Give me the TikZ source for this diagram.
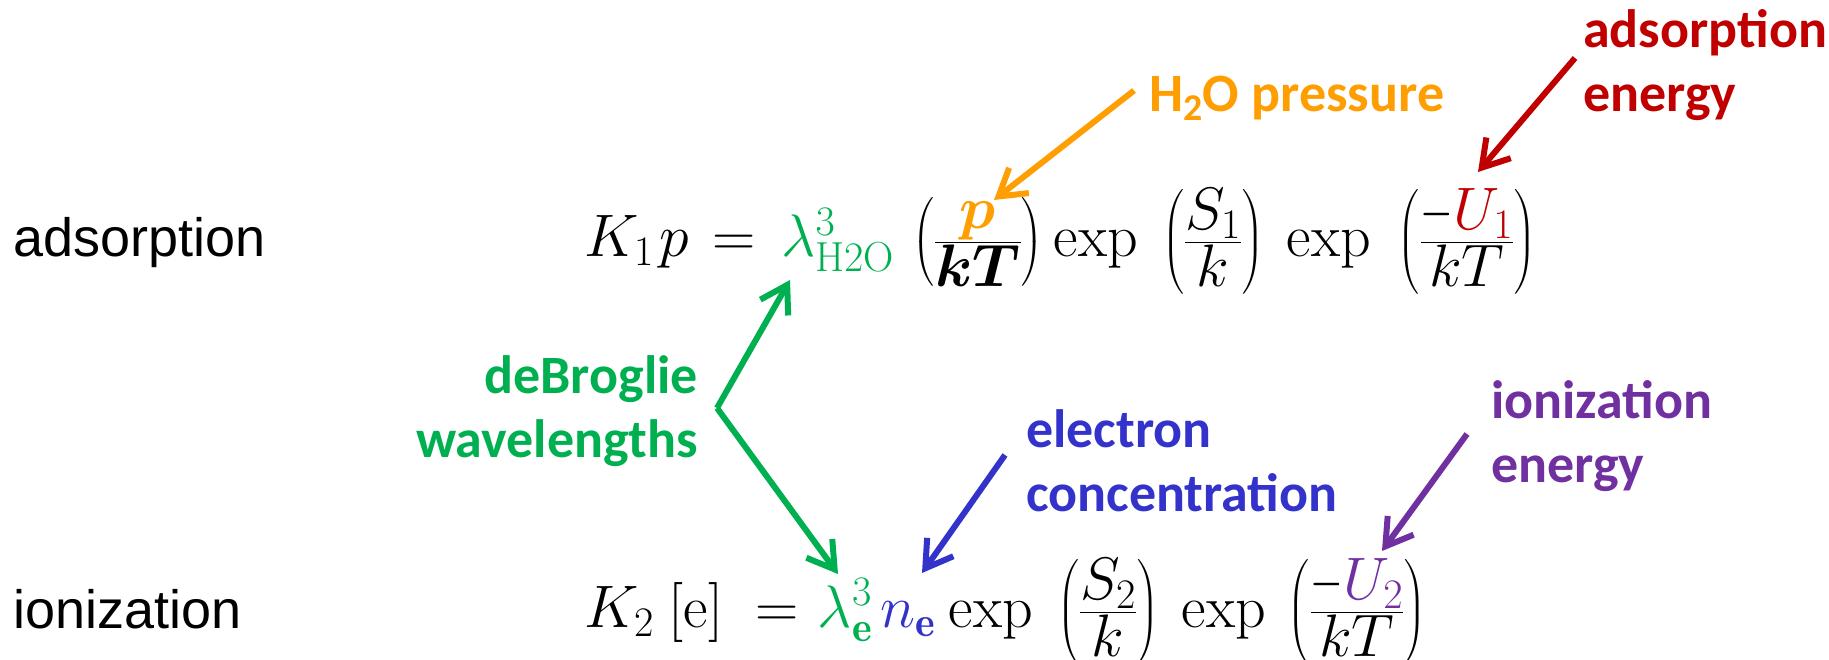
\RequirePackage{fix-cm}
\documentclass[tikz,border=0pt]{standalone}
\usepackage{amsmath}
\usepackage{graphicx}
\usepackage{fontspec}
\newfontfamily\calb{Carlito}
\newfontfamily\arialf{Liberation Sans}
\usetikzlibrary{arrows.meta}
\definecolor{cgreen}{HTML}{00B050}
\definecolor{corange}{HTML}{FF9E00}
\definecolor{cred}{HTML}{C00000}
\definecolor{cblue}{HTML}{3333CC}
\definecolor{cpurple}{HTML}{7030A0}
\newcommand{\nmin}{\mathord{\scalebox{0.7}[1]{$-$}}}
\newcommand{\ff}[2]{\frac{\textstyle #1\rule[-0.18em]{0pt}{0pt}}{\textstyle\rule{0pt}{0.72em}#2}}
\tikzset{
  arr/.style={line width=6pt, -{Straight Barb[length=26pt,width=32pt]}},
  lbl/.style={inner sep=0pt, font=\calb\bfseries\fontsize{54}{64}\selectfont},
  side/.style={inner sep=0pt, anchor=base west, font=\arialf\fontsize{54}{64}\selectfont},
  eqp/.style={inner sep=0pt, anchor=base, font=\fontsize{60}{70}\selectfont}
}
\begin{document}
\begin{tikzpicture}[x=1pt,y=-1pt]
\useasboundingbox (0,0) rectangle (1829,660);
% left labels
\node[side] (lab1) at (13,257) {adsorption};
\node[side] (lab2) at (13,628) {ionization};
% equation 1
\node[eqp] (a1) at (619,257) {$K_1$};
\node[eqp] (a2) at (674,257) {$p$};
\node[eqp] (a3) at (734,257) {$=$};
\node[eqp] (a4) at (838,257) {$\textcolor{cgreen}{\lambda^3_{\mathrm{H2O}}}$};
\node[eqp] (a5) at (978,257) {$\left(\ff{\textcolor{corange}{\boldsymbol{p}}}{\boldsymbol{kT}}\right)$};
\node[eqp] (a6) at (1096,257) {$\exp$};
\node[eqp] (a7) at (1213,257) {$\left(\ff{S_1}{k}\right)$};
\node[eqp] (a8) at (1329,257) {$\exp$};
\node[eqp] (a9) at (1467,257) {$\left(\ff{\nmin\textcolor{cred}{U_1}}{kT}\right)$};
% equation 2
\node[eqp] (b1) at (619,627) {$K_2$};
\node[eqp] (b2) at (696,627) {$[\mathrm{e}]$};
\node[eqp] (b3) at (777,627) {$=$};
\node[eqp] (b4) at (845,627) {$\textcolor{cgreen}{\lambda^3_{\mathbf{e}}}$};
\node[eqp] (b5) at (908,627) {$\textcolor{cblue}{n_{\mathbf{e}}}$};
\node[eqp] (b6) at (991,627) {$\exp$};
\node[eqp] (b7) at (1108,627) {$\left(\ff{S_2}{k}\right)$};
\node[eqp] (b8) at (1224,627) {$\exp$};
\node[eqp] (b9) at (1357,627) {$\left(\ff{\nmin\textcolor{cpurple}{U_2}}{kT}\right)$};
% annotation labels
\node[lbl, text=corange, anchor=base west] (h2o) at (1149,112) {H\textsubscript{2}O pressure};
\node[lbl, text=cred, anchor=west, align=left] (ae) at (1583,65) {adsorption\\energy};
\node[lbl, text=cgreen, anchor=east, align=right] (db) at (698,411) {deBroglie\\wavelengths};
\node[lbl, text=cblue, anchor=west, align=left] (ec) at (1026,461) {electron\\concentration};
\node[lbl, text=cpurple, anchor=west, align=left] (ie) at (1491,436) {ionization\\energy};
% arrow tips
\coordinate (ptip) at (994,200);
\coordinate (rtip) at (1478,172);
\coordinate (gtop) at (790,280);
\coordinate (gbot) at (838,574);
\coordinate (btip) at (922,573);
\coordinate (utip) at (1382,551);
% arrows
\draw[arr, corange] ([shift={(-15,-8)}]h2o.west) -- (ptip);
\draw[arr, cred] ([shift={(-8,-7)}]ae.west) -- (rtip);
\draw[arr, cgreen] ([shift={(19,-3)}]db.east) -- (gtop);
\draw[arr, cgreen] ([shift={(19,-3)}]db.east) -- (gbot);
\draw[arr, cblue] ([shift={(-21,-6)}]ec.west) -- (btip);
\draw[arr, cpurple] ([shift={(-24,-2)}]ie.west) -- (utip);
\end{tikzpicture}
\end{document}
